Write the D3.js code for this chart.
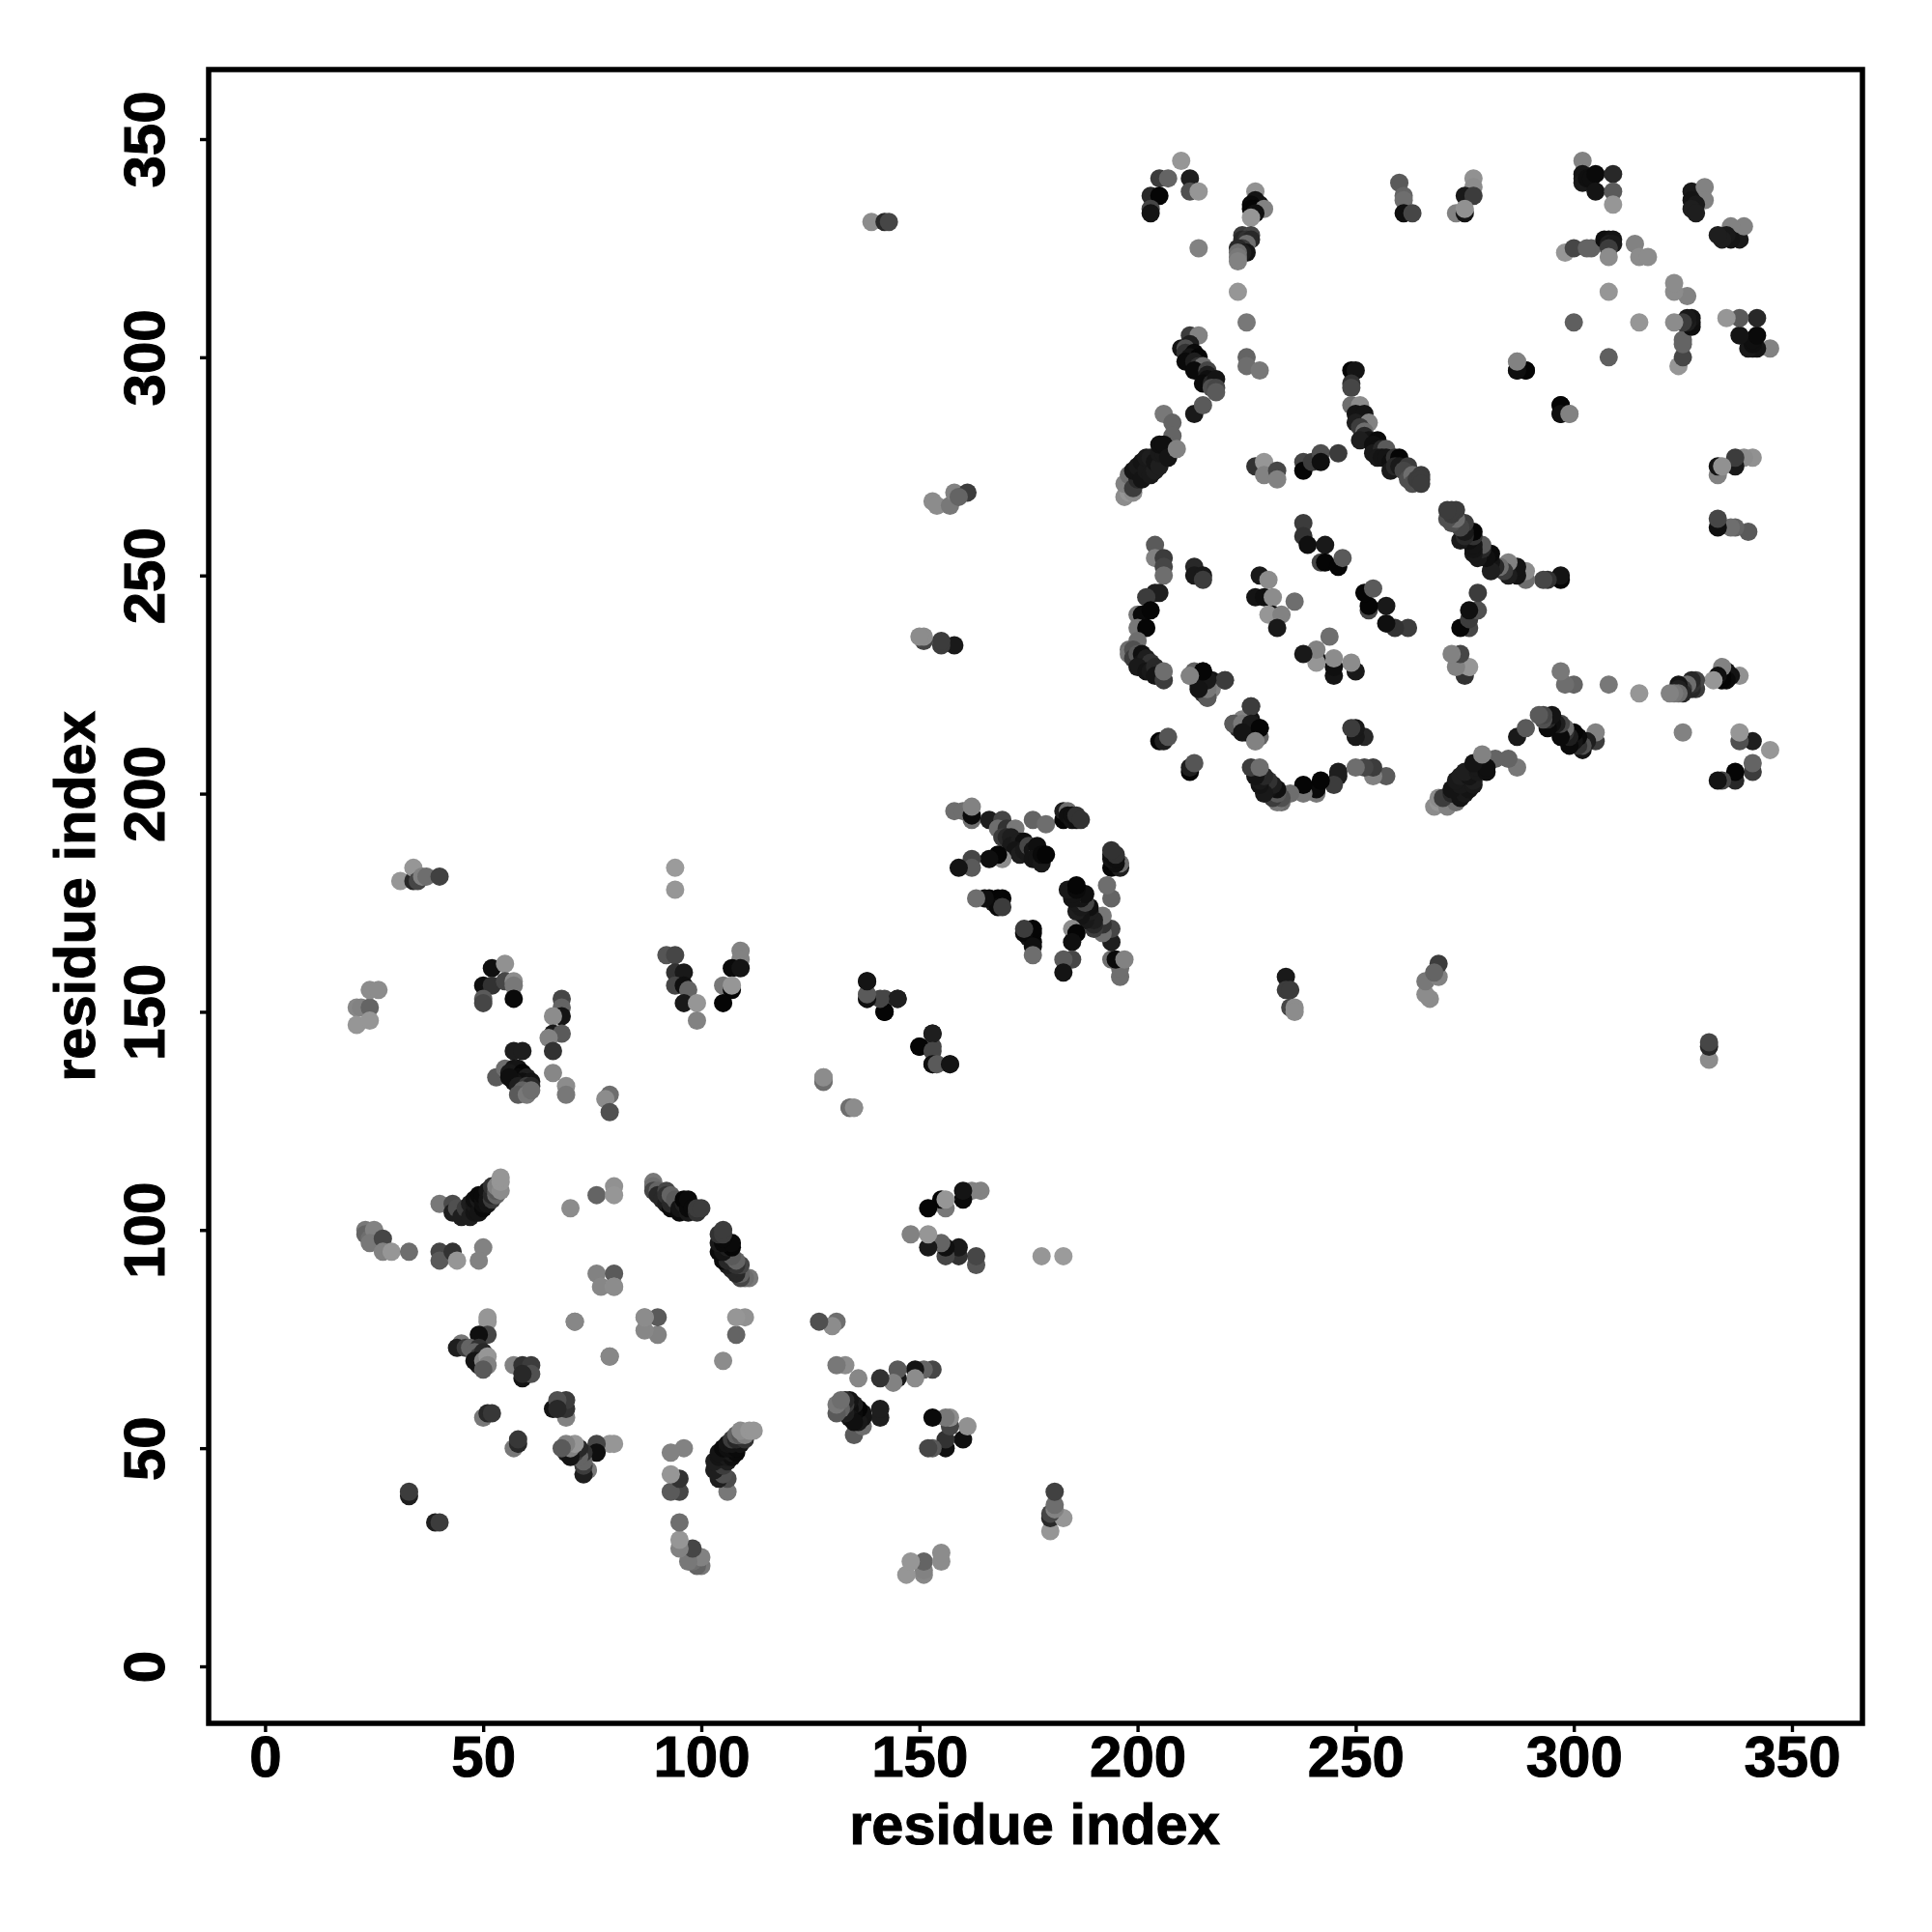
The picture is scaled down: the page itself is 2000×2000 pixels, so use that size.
<!DOCTYPE html>
<html><head><meta charset="utf-8">
<script src="https://cdn.jsdelivr.net/npm/d3@7"></script>
<style>html,body{margin:0;background:#fff}svg{display:block}text{font-family:"Liberation Sans",Arial,sans-serif;font-weight:700;fill:#000;stroke:#000;stroke-width:1px}</style>
</head><body><div id="chart"></div>
<script>
// Each entry: [residue i, residue j, weakness of the contact]. The map is symmetric: only i<j is listed.
const axisTicks = [0,50,100,150,200,250,300,350];
const axisTitle = "residue index";

const contactsDomainA = [
[40,106,120],[43,106,75],[43,104,30],[44,105,80],[45,103,30],[46,105,60],[47,103,30],[47,106,30],[48,104,20],[48,106,25],[48,107,15],[49,104,20],[49,107,25],[49,108,10],[50,105,10],[50,106,15],[50,107,15],[50,108,10],[51,106,20],[51,107,20],[51,109,20],[52,107,60],[52,108,40],[52,110,50],[53,108,100],[53,109,90],[53,110,130],[54,109,140],[54,111,150],[54,112,150],
[23,100,120],[23,99,100],[24,98,110],[25,100,130],[24,97,120],[27,98,70],[27,95,130],[29,95,150],[33,95,110],
[40,95,70],[40,93,90],[43,95,50],[44,93,150],[50,96,130],[49,93,130],
[70,105,140],[76,108,100],[80,110,145],[80,108,150],[76,90,130],[80,90,90],[77,87,135],[80,87,150],[71,79,135],[87,80,140],[79,71,135],
[89,111,120],[89,110,110],[89,109,70],[90,109,100],[90,108,40],[91,107,40],[92,106,30],[92,109,70],[92,108,50],[93,105,10],[93,106,40],[93,108,100],[94,107,90],[95,104,10],[95,105,20],[96,106,30],[96,107,5],[97,104,25],[97,105,10],[97,107,10],[98,105,10],[99,104,50],[99,105,60],[100,105,60],
[51,79,150],[51,80,150],[51,76,70],[49,76,15],[45,74,120],[44,73,30],[46,73,60],[47,73,100],[49,73,50],[48,72,100],[49,71,60],[50,72,40],[49,69,30],[48,70,20],[50,70,130],[51,71,150],[51,69,130],[50,68,90],
[57,69,130],[59,69,50],[61,69,60],[59,66,20],[61,67,80],[59,67,40],[50,57,120],[51,58,40],[52,58,55],
[33,39,30],[33,40,60]
];

const contactsAToC = [
[31,180,150],[34,180,40],[34,183,150],[35,180,70],[36,181,130],[37,181,110],[40,181,65],
[21,151,135],[22,151,130],[24,151,100],[21,147,150],[24,148,150],[24,155,140],[26,155,140],
[52,160,15],[55,161,145],[50,156,15],[52,156,50],[55,157,70],[57,157,140],[57,156,120],[50,153,90],[50,152,70],[57,153,10],
[68,153,70],[68,151,100],[68,149,20],[66,149,140],[66,145,25],[68,145,90],[65,144,130],[66,141,50],[66,136,135],[69,133,140],[69,131,120],
[57,141,30],[59,141,30],[53,135,90],[55,137,110],[57,136,40],[57,137,20],[58,137,20],[56,136,25],[59,136,5],[58,135,10],[60,135,30],[59,134,15],[61,134,20],[57,134,20],[56,135,15],[58,133,30],[60,133,60],[61,133,40],[59,132,100],[58,131,90],[60,131,120],[61,132,110],
[79,131,110],[78,130,140],[79,127,80],[94,183,155],[94,178,150],
[92,163,85],[94,163,70],[94,159,50],[96,159,25],[94,156,70],[96,156,15],[97,155,100],[96,152,25],[99,152,150],[99,148,130],
[109,164,130],[109,162,130],[107,160,10],[109,160,20],[105,156,120],[107,155,5],[107,156,150],[105,152,5],
[128,135,145],[128,134,100],[134,128,110],[135,128,140],
[138,157,25],[138,153,20],[138,154,100],[142,153,70],[145,153,25],[142,150,5],
[153,145,30],[150,142,5],[153,141,70],[153,138,15],[154,138,90],[157,138,20]
];

const contactsDomainC = [
[158,196,110],[160,196,110],[162,194,110],[162,195,10],[162,197,130],
[166,194,30],[169,194,70],[168,192,110],[170,192,50],[172,192,120],[169,190,60],[170,190,40],[171,190,30],[171,188,25],[173,189,30],[174,189,15],[172,187,20],[173,186,30],[174,187,25],[175,186,25],[175,188,70],[176,187,20],[177,186,100],[177,188,15],[176,185,20],[177,185,20],[178,184,25],[178,186,10],[179,186,5],
[169,185,140],[168,186,5],[166,185,15],[162,185,70],[162,183,90],[159,183,20],
[176,194,100],[179,193,110],[183,194,5],[183,196,30],[184,196,110],[184,195,15],[185,194,20],[185,195,15],[186,194,15],[186,195,50],[187,194,50],
[166,176,5],[167,175,25],[168,176,5],[169,176,5],[168,174,10],[169,174,60],[165,176,15],[163,176,110]
];

const contactsCToB = [
[158,234,25],[155,234,60],[155,235,60],[151,235,70],[151,236,140],[150,236,140],
[153,267,140],[154,266,140],[157,266,120],[158,269,130],[161,269,60],[159,268,100],
[139,331,140],[142,331,40],[143,331,70]
];

const contactsDomainB = [
[204,257,90],[204,254,130],[206,254,60],[206,252,70],[206,250,110],[213,252,40],[213,250,25],[215,250,25],[215,249,60],
[204,246,30],[205,246,30],[202,245,60],[200,241,120],[201,241,10],[203,242,5],[200,238,120],[202,238,5],
[198,233,110],[200,235,110],[198,232,120],[199,233,80],[199,231,60],[200,232,90],[201,232,15],[201,230,20],[202,231,30],[203,230,50],[200,229,25],[202,228,20],[203,228,25],[204,229,40],[205,228,40],[204,227,20],[206,226,60],[206,228,110],
[212,227,130],[213,228,100],[215,228,15],[214,225,20],[217,226,20],[220,226,60],[217,224,130],[216,222,90],[215,223,50],
[226,220,60],[222,216,90],[224,216,120],[226,216,25],[224,214,20],[228,215,5],[227,212,130],
[205,212,5],[206,212,30],[207,213,85],
[228,250,25],[230,249,140],[227,245,20],[229,245,15],[231,245,140],[236,244,110],[231,241,10],[230,241,150],[233,241,130],[232,238,25],
[238,262,60],[238,259,50],[239,257,15],[243,257,25],[242,253,70],[243,253,5],[246,252,5],[247,254,90],
[212,341,30],[210,345,150],[205,341,60],[207,341,100],[212,338,80],[214,338,150],[203,337,40],[205,337,5],[203,334,70],[203,333,20]
];

const contactsUpperB = [
[227,338,145],[227,336,20],[228,335,20],[226,335,10],[226,334,5],[227,334,5],[229,334,130],[227,333,15],[226,332,150],
[214,325,130],[224,328,60],[226,328,70],[224,327,40],[225,327,50],[226,327,40],[225,326,110],[224,325,60],[223,325,40],[225,324,20],[224,324,30],[223,324,110],[223,323,120],[223,322,130],
[223,315,150],[225,308,120],[225,300,100],[225,298,110],[228,297,120],
[260,340,90],[261,337,100],[261,336,110],[261,333,15],[263,333,70],
[277,341,145],[277,339,140],[275,337,25],[277,337,60],[273,333,130],[275,333,20],[275,334,145],
[302,345,130],[302,342,20],[302,341,20],[302,340,25],[303,341,15],[304,341,15],[305,342,10],[309,342,40],[305,338,20],[309,338,90],[309,335,150],
[327,338,25],[330,339,130],[330,336,130],[327,336,20],[328,335,25],[327,334,30],[328,333,30],
[298,324,150],[300,325,70],[304,325,100],[303,325,100],[307,327,15],[308,327,15],[309,327,20],[308,326,30],[309,326,25],[308,325,60],[308,323,140],[314,326,130],[315,323,140],[317,323,140],
[308,315,150],[300,308,95],[287,299,150],[287,297,15],[289,297,5],[297,289,5],[297,287,15],[299,287,130]
];

const contactsStrandsB = [
[212,305,60],[214,305,130],[212,303,30],[210,302,20],[211,302,80],[211,301,50],[213,301,10],[212,300,20],[211,299,10],[214,300,5],[213,299,30],[214,298,50],[215,298,110],[213,297,10],[216,297,70],[216,296,30],[216,295,15],[215,294,10],[217,294,40],[218,295,20],[217,293,80],[218,293,70],[218,292,90],
[213,287,25],[215,289,90],[206,287,120],[208,285,100],[208,282,100],
[197,268,140],[198,269,150],[199,269,140],[197,271,130],[198,273,110],[199,270,60],[200,272,40],[199,274,20],[200,275,25],[201,272,20],[201,276,20],[202,274,25],[202,277,25],[203,273,25],[203,277,30],[204,274,30],[204,276,20],[205,275,30],[205,278,25],[206,278,25],[205,280,15],[206,280,15],[207,277,20],[209,279,130],
[249,297,5],[250,297,20],[249,294,50],[249,293,70],[249,289,110],[251,289,140],[250,287,20],[252,287,20],[250,285,30],[253,285,130],[251,284,60],[252,283,110],[252,282,40],[253,281,20],[251,281,30],[255,281,10],[254,280,15],[255,279,15],[254,278,25],[256,279,40],[257,279,90],[255,277,25],[256,277,20],[257,277,20],[258,276,15],[259,277,50],[260,277,5],[258,274,25],[259,275,40],[260,275,25],[262,275,60],[261,274,70],[262,272,80],[263,273,110],[263,271,80],[264,272,60],[265,273,60],[265,272,60],[265,271,60],
[238,276,70],[238,274,5],[240,276,60],[242,278,80],[242,276,15],[246,278,60],
[227,275,50],[229,276,150],[229,273,130],[232,274,70],[232,272,130]
];

const allContacts = [contactsDomainA, contactsAToC, contactsDomainC, contactsCToB, contactsDomainB, contactsUpperB, contactsStrandsB].flat();

const W = 2000, H = 2000;
const x = d3.scaleLinear().domain([0,350]).range([274.4,1855]);
const y = d3.scaleLinear().domain([0,350]).range([1725,144]);
const shade = d3.scaleLinear().domain([0,160]).range(["#000000","#a0a0a0"]);

const svg = d3.select("#chart").append("svg").attr("width",W).attr("height",H);
svg.append("rect").attr("width",W).attr("height",H).attr("fill","#fff");

const points = allContacts.flatMap(c => [c, [c[1],c[0],c[2]]]);
svg.append("g").selectAll("circle").data(points).join("circle")
  .attr("cx",d=>x(d[0])).attr("cy",d=>y(d[1])).attr("r",9.5).attr("fill",d=>shade(d[2]));

const box = {l:216,r:1928,t:72,b:1784};
svg.append("rect").attr("x",box.l).attr("y",box.t).attr("width",box.r-box.l).attr("height",box.b-box.t)
  .attr("fill","none").attr("stroke","#000").attr("stroke-width",5.5);

const xAxis = d3.axisBottom(x).tickValues(axisTicks).tickSize(9).tickPadding(3).tickFormat(d3.format("d"));
const yAxis = d3.axisLeft(y).tickValues(axisTicks).tickSize(9).tickPadding(3).tickFormat(d3.format("d"));
const gx = svg.append("g").attr("transform",`translate(0,${box.b})`).call(xAxis);
const gy = svg.append("g").attr("transform",`translate(${box.l},0)`).call(yAxis);
[gx,gy].forEach(g=>{ g.select(".domain").remove(); g.selectAll("line").attr("stroke","#000").attr("stroke-width",3.4); });
gx.selectAll("text").attr("font-size",60).attr("y",null).attr("dy",null).attr("text-anchor","middle")
  .attr("transform","translate(0,55)");
gy.selectAll("text").attr("font-size",60).attr("x",null).attr("dy",null).attr("text-anchor","middle")
  .attr("transform",`translate(${170-box.l},0) rotate(-90)`);

svg.append("text").attr("x",1071).attr("y",1909).attr("text-anchor","middle").attr("font-size",59.5).text(axisTitle);
svg.append("text").attr("transform","translate(98,928) rotate(-90)").attr("text-anchor","middle").attr("font-size",59.5).text(axisTitle);
</script></body></html>
